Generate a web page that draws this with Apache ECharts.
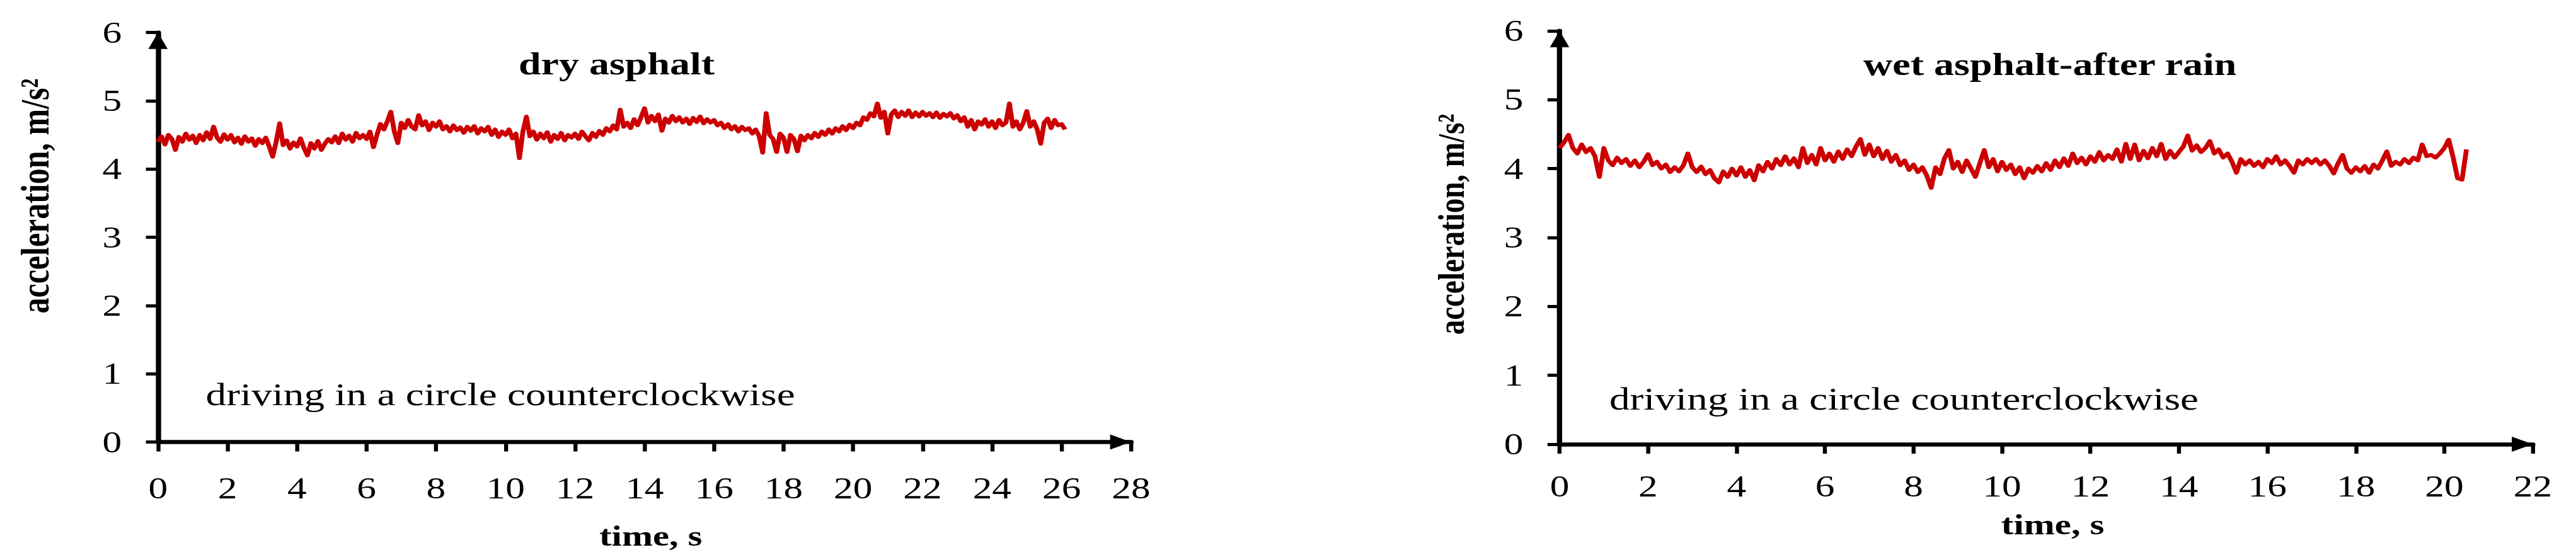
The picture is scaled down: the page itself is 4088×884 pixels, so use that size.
<!DOCTYPE html>
<html>
<head>
<meta charset="utf-8">
<script src="https://cdn.jsdelivr.net/npm/echarts@6/dist/echarts.min.js"></script>
<style>
  html, body { margin: 0; padding: 0; background: #fff; overflow: hidden; width: 4088px; height: 884px; }
  #chart { position: absolute; left: 0; top: 0; height: 884px; transform-origin: 0 0; }
</style>
</head>
<body>
<div id="chart"></div>
<script>
// ---- data ----
const SAMPLE_STEP = 0.1; // seconds between samples
const dryValues = [
  4.40, 4.48, 4.36, 4.50, 4.44, 4.28, 4.47, 4.40, 4.52, 4.43,
  4.49, 4.38, 4.50, 4.42, 4.54, 4.44, 4.62, 4.46, 4.40, 4.51,
  4.43, 4.50, 4.39, 4.46, 4.37, 4.48, 4.40, 4.45, 4.34, 4.44,
  4.38, 4.46, 4.33, 4.18, 4.40, 4.67, 4.35, 4.42, 4.30, 4.39,
  4.33, 4.45, 4.31, 4.20, 4.38, 4.30, 4.41, 4.28, 4.37, 4.44,
  4.39, 4.48, 4.38, 4.52, 4.43, 4.49, 4.40, 4.53, 4.45, 4.50,
  4.44, 4.55, 4.32, 4.50, 4.66, 4.58, 4.70, 4.84, 4.55, 4.38,
  4.68, 4.60, 4.72, 4.62, 4.58, 4.79, 4.64, 4.70, 4.57, 4.68,
  4.62, 4.70, 4.58, 4.63, 4.55, 4.64, 4.57, 4.61, 4.53, 4.62,
  4.56, 4.63, 4.52, 4.60, 4.55, 4.62, 4.50, 4.58, 4.47, 4.55,
  4.50, 4.58, 4.45, 4.52, 4.16, 4.55, 4.77, 4.48, 4.55, 4.43,
  4.52, 4.45, 4.54, 4.40, 4.50, 4.44, 4.53, 4.42, 4.50, 4.46,
  4.52, 4.44, 4.55, 4.48, 4.42, 4.53, 4.47, 4.56, 4.50, 4.60,
  4.55, 4.64, 4.58, 4.87, 4.62, 4.68, 4.60, 4.73, 4.64, 4.76,
  4.89, 4.68, 4.78, 4.70, 4.80, 4.56, 4.74, 4.68, 4.78, 4.70,
  4.76, 4.68, 4.74, 4.66, 4.75, 4.69, 4.77, 4.67, 4.73, 4.68,
  4.72, 4.64, 4.68, 4.60, 4.66, 4.58, 4.63, 4.55, 4.62, 4.57,
  4.60, 4.52, 4.58, 4.48, 4.24, 4.82, 4.50, 4.44, 4.25, 4.52,
  4.46, 4.25, 4.50, 4.44, 4.26, 4.49, 4.42, 4.50, 4.45, 4.53,
  4.47, 4.55, 4.50, 4.58, 4.52, 4.60, 4.55, 4.63, 4.57, 4.65,
  4.60, 4.68, 4.64, 4.76, 4.72, 4.82, 4.77, 4.96, 4.75, 4.84,
  4.52, 4.80, 4.86, 4.76, 4.84, 4.78, 4.86, 4.76, 4.83, 4.77,
  4.84, 4.78, 4.82, 4.76, 4.83, 4.75, 4.81, 4.77, 4.82, 4.74,
  4.79, 4.70, 4.76, 4.62, 4.72, 4.58, 4.70, 4.65, 4.73, 4.62,
  4.70, 4.60, 4.72, 4.64, 4.68, 4.96, 4.62, 4.70, 4.58, 4.68,
  4.85, 4.62, 4.70, 4.58, 4.37, 4.68, 4.74, 4.60, 4.72, 4.64,
  4.66, 4.58
];
const wetValues = [
  4.30, 4.38, 4.49, 4.30, 4.22, 4.35, 4.24, 4.30, 4.18, 3.88,
  4.30, 4.12, 4.05, 4.16, 4.08, 4.14, 4.04, 4.12, 4.02, 4.10,
  4.21, 4.05, 4.10, 4.00, 4.06, 3.95, 4.02, 3.96, 4.05, 4.22,
  4.02, 3.95, 4.03, 3.92, 3.98, 3.86, 3.80, 3.96, 3.88, 4.00,
  3.90, 4.02, 3.88, 3.98, 3.83, 4.05, 3.96, 4.10, 4.00, 4.14,
  4.05, 4.18, 4.06, 4.15, 4.02, 4.30, 4.08, 4.20, 4.06, 4.30,
  4.12, 4.22, 4.10, 4.25, 4.14, 4.28, 4.18, 4.32, 4.43, 4.20,
  4.35, 4.18, 4.30, 4.14, 4.26, 4.10, 4.20, 4.05, 4.12, 3.98,
  4.06, 3.95, 4.02, 3.90, 3.72, 4.02, 3.92, 4.15, 4.27, 4.00,
  4.10, 3.95, 4.12, 4.00, 3.88, 4.08, 4.27, 4.02, 4.14, 3.96,
  4.10, 3.98, 4.06, 3.92, 4.02, 3.86, 4.00, 3.94, 4.04, 3.96,
  4.08, 3.98, 4.12, 4.02, 4.15, 4.04, 4.22, 4.08, 4.16, 4.06,
  4.18, 4.10, 4.24, 4.12, 4.20, 4.14, 4.28, 4.10, 4.36, 4.14,
  4.35, 4.12, 4.26, 4.15, 4.30, 4.18, 4.36, 4.14, 4.26, 4.16,
  4.24, 4.32, 4.48, 4.26, 4.34, 4.24, 4.30, 4.40, 4.22, 4.28,
  4.16, 4.22, 4.10, 3.94, 4.14, 4.06, 4.12, 4.04, 4.10, 4.02,
  4.14, 4.08, 4.18, 4.06, 4.12, 4.04, 3.94, 4.12, 4.06, 4.14,
  4.08, 4.14, 4.06, 4.12, 4.04, 3.93, 4.08, 4.20, 4.00, 3.94,
  4.02, 3.96, 4.04, 3.94, 4.06, 4.00, 4.12, 4.25, 4.04, 4.10,
  4.06, 4.14, 4.08, 4.16, 4.12, 4.35, 4.18, 4.20, 4.16, 4.22,
  4.30, 4.42, 4.16, 3.86, 3.84, 4.28
];
const panelTitles = ['dry asphalt', 'wet asphalt-after rain'];
const noteText = 'driving in a circle counterclockwise';
const xAxisTitle = 'time, s';
const yAxisTitle = 'acceleration, m/s\u00B2';
const Y_MIN = 0, Y_MAX = 6, Y_STEP = 1;
const X_MIN = 0, X_STEP = 2;
const DRY_X_MAX = 28, WET_X_MAX = 22;

// ---- layout ----
const SX = 1.28;                 // reference is horizontally stretched
const W = 4088 / SX;
const FONT = '"Liberation Serif", "Times New Roman", serif';
const dom = document.getElementById('chart');
dom.style.width = W + 'px';
dom.style.transform = 'scaleX(' + SX + ')';

function toPairs(vals) {
  return vals.map((v, i) => [Math.round(i * SAMPLE_STEP * 10) / 10, v]);
}

const axisLineCommon = {
  show: true, onZero: false,
  symbol: ['none', 'triangle'], symbolSize: [24, 26], symbolOffset: [0, -13],
  lineStyle: { color: '#000', width: 6.5 }
};

function xAxisCfg(gridIndex, max, margin) {
  return {
    type: 'value', gridIndex: gridIndex, min: X_MIN, max: max, interval: X_STEP,
    axisLine: axisLineCommon,
    axisTick: { show: true, length: 15, lineStyle: { color: '#000', width: 5 } },
    axisLabel: { margin: margin, color: '#000', fontSize: 48, fontFamily: FONT },
    splitLine: { show: false }
  };
}
function yAxisCfg(gridIndex) {
  return {
    type: 'value', gridIndex: gridIndex, min: Y_MIN, max: Y_MAX, interval: Y_STEP,
    axisLine: axisLineCommon,
    axisTick: { show: true, length: 15, lineStyle: { color: '#000', width: 5 } },
    axisLabel: { margin: 45, color: '#000', fontSize: 48, fontFamily: FONT },
    splitLine: { show: false }
  };
}

function txt(x, y, text, size, bold, align, rot) {
  return {
    type: 'text', x: x, y: y, rotation: rot || 0, silent: true,
    style: {
      text: text, fill: '#000', fontSize: size, fontFamily: FONT,
      fontWeight: bold ? 'bold' : 'normal', align: align, verticalAlign: 'middle'
    }
  };
}

const chart = echarts.init(dom, null, { renderer: 'svg', width: W, height: 884 });
chart.setOption({
  animation: false,
  backgroundColor: '#fff',
  grid: [
    { left: 195.9, top: 51.7, width: 1206.4, height: 649.8 },
    { left: 1933.6, top: 49, width: 1206.6, height: 656 }
  ],
  xAxis: [xAxisCfg(0, DRY_X_MAX, 49), xAxisCfg(1, WET_X_MAX, 43)],
  yAxis: [yAxisCfg(0), yAxisCfg(1)],
  series: [
    { type: 'line', name: panelTitles[0], xAxisIndex: 0, yAxisIndex: 0, data: toPairs(dryValues),
      showSymbol: false, symbol: 'none', lineStyle: { color: '#CC0000', width: 6, join: 'round' }, itemStyle: { color: '#CC0000' } },
    { type: 'line', name: panelTitles[1], xAxisIndex: 1, yAxisIndex: 1, data: toPairs(wetValues),
      showSymbol: false, symbol: 'none', lineStyle: { color: '#CC0000', width: 6, join: 'round' }, itemStyle: { color: '#CC0000' } }
  ],
  graphic: [
    txt(764.5, 101, panelTitles[0], 50, true, 'center'),
    txt(2541.6, 102, panelTitles[1], 50, true, 'center'),
    txt(255.1, 626, noteText, 51, false, 'left'),
    txt(1995.3, 633, noteText, 51, false, 'left'),
    txt(806.8, 850, xAxisTitle, 46, true, 'center'),
    txt(2545, 832, xAxisTitle, 46, true, 'center'),
    txt(43, 311, yAxisTitle, 50, true, 'center', Math.PI / 2),
    txt(1799.3, 356, yAxisTitle, 47, true, 'center', Math.PI / 2)
  ]
});
</script>
</body>
</html>
